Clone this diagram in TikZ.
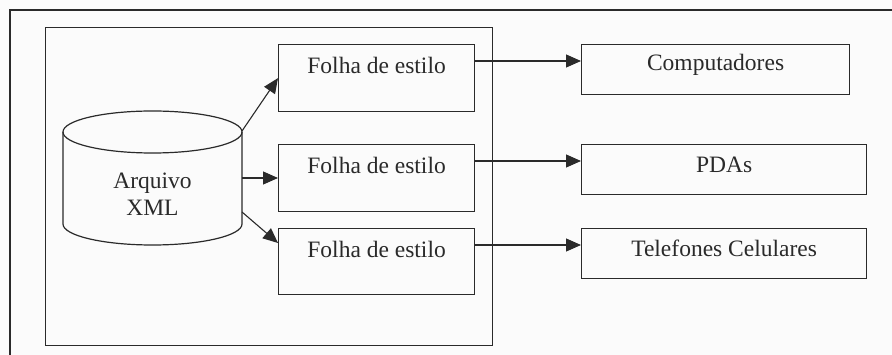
\documentclass[tikz,border=0pt]{standalone}
\usepackage{fontspec}
\setmainfont{Liberation Serif}
\usetikzlibrary{arrows.meta,calc}
\definecolor{ink}{HTML}{2A2A2A}
\definecolor{paper}{HTML}{FBFBFB}
\tikzset{
  box/.style={draw=ink, line width=1.2pt, rectangle, inner sep=0pt, anchor=north west},
  lbl/.style={font=\fontsize{23.5}{27}\selectfont, text=ink, inner sep=0pt},
  arr/.style={draw=ink, line width=1.1pt, -{Triangle[length=15pt,width=13pt]}},
  frame/.style={draw=ink, line width=1.2pt},
}
\begin{document}
\begin{tikzpicture}[x=1pt,y=-1pt]
\useasboundingbox[fill=paper] (0,0) rectangle (892,355);
% outer frame (partly outside the page)
\draw[frame] (10,360) -- (10,10) -- (897,10);
% inner container
\node[box, minimum width=447pt, minimum height=318pt] (cont) at (45,27) {};
% cylinder
\coordinate (cyl) at (152.5,178);
\draw[frame, fill=paper] (63,132) -- (63,224) arc[start angle=180, end angle=0, x radius=89.5, y radius=21] -- (242,132);
\draw[frame] (152.5,132) ellipse[x radius=89.5, y radius=21];
\node[lbl, align=center] (xml) at (152.5,194) {Arquivo\\XML};
\coordinate (c1) at (242,131);
\coordinate (c2) at (242,178);
\coordinate (c3) at (242,212);
% style sheets
\node[box, minimum width=196pt, minimum height=67pt] (f1) at (278,44) {};
\node[box, minimum width=196pt, minimum height=67pt] (f2) at (278,144) {};
\node[box, minimum width=196pt, minimum height=66pt] (f3) at (278,228) {};
\node[lbl] (f1t) at ($(f1.north)+(0,21)$) {Folha de estilo};
\node[lbl] (f2t) at ($(f2.north)+(0,21)$) {Folha de estilo};
\node[lbl] (f3t) at ($(f3.north)+(0,21)$) {Folha de estilo};
% targets
\node[box, minimum width=268pt, minimum height=50pt] (comp) at (581,44) {};
\node[box, minimum width=285pt, minimum height=50pt] (pda) at (581,144) {};
\node[box, minimum width=285pt, minimum height=50pt] (tel) at (581,228) {};
\node[lbl] (compt) at ($(comp.north)+(0,21)$) {Computadores};
\node[lbl] (pdat) at ($(pda.north)+(0,21)$) {PDAs};
\node[lbl] (telt) at ($(tel.north)+(0,20)$) {Telefones Celulares};
% arrows from cylinder
\draw[arr] (c1) -- (f1.west);
\draw[arr] (c2) -- (c2 -| f2.west);
\draw[arr] (c3) -- ($(f3.north west)+(0,15)$);
% arrows to targets
\draw[arr] ($(f1.north east)+(0,17)$) -- ($(comp.north west)+(0,17)$);
\draw[arr] ($(f2.north east)+(0,17)$) -- ($(pda.north west)+(0,17)$);
\draw[arr] ($(f3.north east)+(0,17)$) -- ($(tel.north west)+(0,17)$);
\end{tikzpicture}
\end{document}
